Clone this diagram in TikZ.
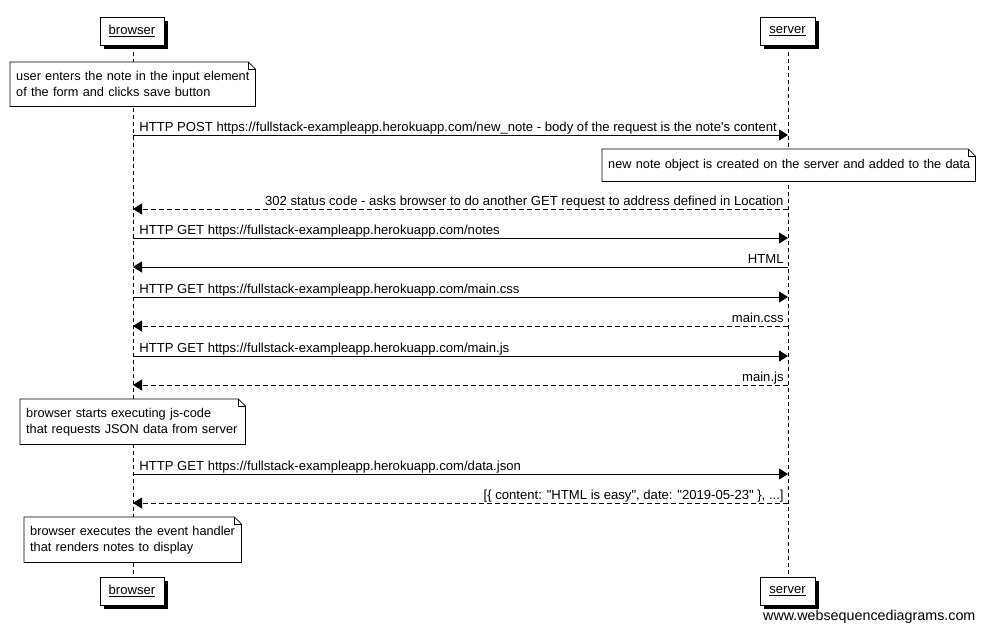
\documentclass[tikz,border=0pt]{standalone}
\usepackage{fontspec}
\defaultfontfeatures[\rmfamily]{}
\setmainfont{Liberation Sans}
\usetikzlibrary{arrows.meta,shadows}
\begin{document}
\begin{tikzpicture}[x=1pt,y=-1pt,
  every node/.style={font=\fontsize{13.1}{16}\selectfont, inner sep=0pt},
  part/.style={draw, fill=white, line width=0.8pt, minimum height=28pt, inner xsep=0pt,
    general shadow={fill=black, shadow xshift=4pt, shadow yshift=-4pt}},
  life/.style={line width=0.8pt, dash pattern=on 4pt off 3pt},
  msg/.style={line width=0.8pt, -{Triangle[length=9pt,width=11pt]}},
  ret/.style={msg, dash pattern=on 5pt off 3pt},
  lbl/.style={anchor=base west},
  rlbl/.style={anchor=base east},
  notetext/.style={align=left, inner xsep=6pt, inner ysep=0pt, fill=white, anchor=north west,
    font=\fontsize{12.75}{16}\selectfont}
]
\useasboundingbox (0,0) rectangle (983,630);
\fill[white] (0,0) rectangle (983,630);
% lifelines
\coordinate (bt) at (133,45); \coordinate (bb) at (133,577);
\coordinate (st) at (788,45); \coordinate (sb) at (788,577);
\draw[life] (bt) -- (bb);
\draw[life] (st) -- (sb);
% participants
\node[part, minimum width=64pt] (b1) at (132,31) {\underline{browser}};
\node[part, minimum width=55pt] (s1) at (787.5,31) {\underline{server}};
\node[part, minimum width=64pt] (b2) at (132,591) {\underline{browser}};
\node[part, minimum width=55pt] (s2) at (787.5,591) {\underline{server}};
% notes
\node[notetext, text width=233pt, minimum height=44pt] (n1) at (10,62) {\mbox{user enters the note in the input element}\\\mbox{of the form and clicks save button}};
\node[notetext, text width=361pt, minimum height=32pt] (n2) at (602,149) {\mbox{new note object is created on the server and added to the data}};
\node[notetext, text width=213pt, minimum height=45pt] (n3) at (20,399) {\mbox{browser starts executing js-code}\\\mbox{that requests JSON data from server}};
\node[notetext, text width=205pt, minimum height=45pt] (n4) at (24,517) {\mbox{browser executes the event handler}\\\mbox{that renders notes to display}};
\foreach \n in {n1,n2,n3,n4}{
  \draw[line width=0.8pt] (\n.south west) -- (\n.north west) -- ([xshift=-7pt]\n.north east) -- ([yshift=-7pt]\n.north east) -- (\n.south east) -- cycle;
  \draw[line width=0.6pt] ([xshift=-7pt]\n.north east) |- ([yshift=-7pt]\n.north east);
}
% message endpoints
\foreach \y/\k in {135/1,209/2,238/3,267/4,297/5,326/6,356/7,385/8,474/9,503/10}{
  \coordinate (bl\k) at (133,\y);
  \coordinate (sl\k) at (788,\y);
}
\draw[msg] (bl1) -- (sl1) node[pos=0, lbl, xshift=6pt, yshift=4pt] (m1) {HTTP POST https://fullstack-exampleapp.herokuapp.com/new\_note - body of the request is the note's content};
\draw[ret] (sl2) -- (bl2) node[pos=0, rlbl, xshift=-4pt, yshift=4pt] (m2) {302 status code - asks browser to do another GET request to address defined in Location};
\draw[msg] (bl3) -- (sl3) node[pos=0, lbl, xshift=6pt, yshift=4pt] (m3) {HTTP GET https://fullstack-exampleapp.herokuapp.com/notes};
\draw[msg] (sl4) -- (bl4) node[pos=0, rlbl, xshift=-4pt, yshift=4pt] (m4) {HTML};
\draw[msg] (bl5) -- (sl5) node[pos=0, lbl, xshift=6pt, yshift=4pt] (m5) {HTTP GET https://fullstack-exampleapp.herokuapp.com/main.css};
\draw[ret] (sl6) -- (bl6) node[pos=0, rlbl, xshift=-4pt, yshift=4pt] (m6) {main.css};
\draw[msg] (bl7) -- (sl7) node[pos=0, lbl, xshift=6pt, yshift=4pt] (m7) {HTTP GET https://fullstack-exampleapp.herokuapp.com/main.js};
\draw[ret] (sl8) -- (bl8) node[pos=0, rlbl, xshift=-4pt, yshift=4pt] (m8) {main.js};
\draw[msg] (bl9) -- (sl9) node[pos=0, lbl, xshift=6pt, yshift=4pt] (m9) {HTTP GET https://fullstack-exampleapp.herokuapp.com/data.json};
\draw[ret] (sl10) -- (bl10) node[pos=0, rlbl, xshift=-4pt, yshift=4pt] (m10) {[\{ content: "HTML is easy", date: "2019-05-23" \}, ...]};
% watermark
\node[anchor=base west, font=\fontsize{14.3}{16}\selectfont] (wm) at (763,620) {www.websequencediagrams.com};
\end{tikzpicture}
\end{document}
